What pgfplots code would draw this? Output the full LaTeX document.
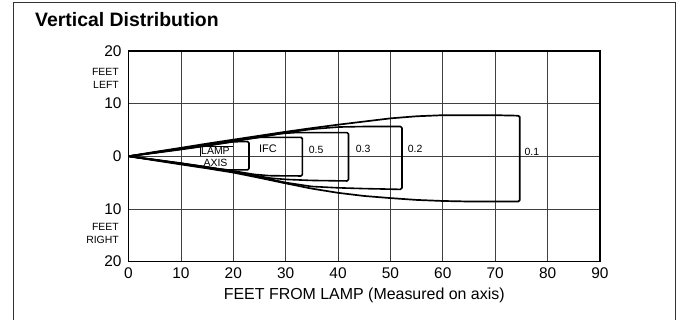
\documentclass[border=0pt]{standalone}
\usepackage{fontspec}
\setmainfont{Liberation Sans}
\usepackage{pgfplots}
\pgfplotsset{compat=1.18}
\begin{document}
\begin{tikzpicture}
\path[use as bounding box] (0bp,0bp) rectangle (682bp,320bp);
\draw[black!80, line width=1bp] (13bp,-5bp) -- (13bp,317.5bp) -- (675bp,317.5bp) -- (675bp,-5bp);
\node[anchor=base west, inner sep=0pt, font=\fontsize{19.5}{22}\selectfont\bfseries] at (35bp,293bp) {Vertical Distribution};
\begin{axis}[
  at={(128.5bp,58.5bp)}, anchor=south west, scale only axis,
  width=471.5bp, height=210.5bp,
  xmin=0, xmax=90, ymin=-20, ymax=20,
  axis line style={line width=1.6bp},
  grid=major, grid style={black!75, line width=0.7bp},
  xtick={0,10,...,90}, ytick={-20,-10,0,10,20}, yticklabels={20,10,0,10,20},
  major tick length=0pt,
  tick label style={font=\fontsize{15.5}{18}\selectfont},
  /pgf/number format/assume math mode=true,
  xticklabel style={yshift=-2.5bp},
  yticklabel style={xshift=-3.5bp},
  xlabel={FEET FROM LAMP (Measured on axis)},
  xlabel style={at={(axis description cs:0.5,0)}, anchor=center, yshift=-34bp, font=\fontsize{16}{19}\selectfont},
  clip=false,
]
% 0.1 fc
\addplot[black, line width=1.7bp, rounded corners=1.5bp, line join=round] coordinates {
(0,0) (5,0.82) (10,1.6) (15,2.4) (20,3.15) (25,3.9) (30,4.65) (35,5.35) (40,6.0) (45,6.6) (50,7.2) (55,7.6) (60,7.8) (70,7.8) (74.7,7.7)
(74.7,-8.6) (65,-8.6) (60,-8.5) (55,-8.3) (50,-7.95) (45,-7.55) (40,-6.95) (35,-6.15) (30,-5.15) (25,-4.1) (20,-3.1) (15,-2.3) (10,-1.55) (5,-0.78) (0,0)};
% 0.2 fc
\addplot[black, line width=1.6bp, rounded corners=1.5bp, line join=round] coordinates {
(0,0) (5,0.75) (10,1.5) (15,2.25) (20,2.95) (25,3.7) (30,4.45) (35,5.15) (40,5.55) (45,5.65) (52.2,5.65)
(52.2,-6.3) (45,-6.15) (40,-6.0) (35,-5.75) (30,-5.0) (25,-3.95) (20,-2.95) (15,-2.2) (10,-1.45) (5,-0.72) (0,0)};
% 0.3 fc
\addplot[black, line width=1.6bp, rounded corners=1.5bp, line join=round] coordinates {
(0,0) (5,0.7) (10,1.42) (15,2.15) (20,2.85) (25,3.6) (29,4.3) (32,4.5) (42,4.5)
(42,-4.7) (35,-4.6) (30,-4.4) (27,-4.15) (25,-3.8) (20,-2.85) (15,-2.1) (10,-1.4) (5,-0.68) (0,0)};
% 0.5 fc
\addplot[black, line width=1.6bp, rounded corners=1.5bp, line join=round] coordinates {
(0,0) (5,0.66) (10,1.35) (15,2.05) (20,2.8) (23,3.35) (25,3.6) (33.2,3.6)
(33.2,-3.75) (27,-3.7) (24,-3.45) (20,-2.8) (15,-2.05) (10,-1.35) (5,-0.66) (0,0)};
% 1 fc
\addplot[black, line width=1.6bp, rounded corners=1.5bp, line join=round] coordinates {
(0,0) (5,0.62) (10,1.28) (15,1.98) (18,2.45) (20,2.75) (23,2.8)
(23,-2.6) (19,-2.6) (17,-2.4) (15,-2.05) (10,-1.3) (5,-0.64) (0,0)};
% lamp axis bracket
\addplot[black, line width=0.9bp] coordinates {(13.65,0) (13.65,1.8) (20,1.8)};
\node[font=\fontsize{10.5}{12}\selectfont, inner sep=0pt] at (axis cs:16.6,0.95) {LAMP};
\node[font=\fontsize{10.5}{12}\selectfont, inner sep=0pt] at (axis cs:16.6,-1.25) {AXIS};
\node[font=\fontsize{11}{12}\selectfont, inner sep=0pt] at (axis cs:26.6,1.4) {IFC};
\node[font=\fontsize{10.5}{12}\selectfont, inner sep=0pt] at (axis cs:35.8,1.3) {0.5};
\node[font=\fontsize{10.5}{12}\selectfont, inner sep=0pt] at (axis cs:44.8,1.4) {0.3};
\node[font=\fontsize{10.5}{12}\selectfont, inner sep=0pt] at (axis cs:54.7,1.4) {0.2};
\node[font=\fontsize{10.5}{12}\selectfont, inner sep=0pt] at (axis cs:77,0.9) {0.1};
\node[anchor=east, align=right, inner sep=0pt, xshift=-9.5bp, font=\fontsize{10.5}{13}\selectfont] at (axis cs:0,14.8) {FEET\\LEFT};
\node[anchor=east, align=right, inner sep=0pt, xshift=-9.5bp, font=\fontsize{10.5}{13}\selectfont] at (axis cs:0,-14.6) {FEET\\RIGHT};
\end{axis}
\end{tikzpicture}
\end{document}
